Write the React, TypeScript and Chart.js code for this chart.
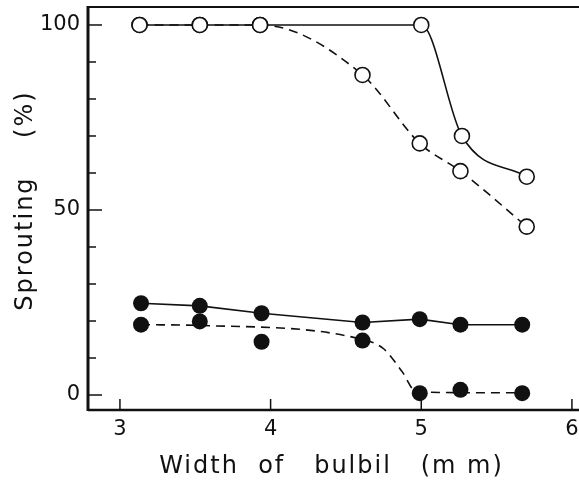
import React, { useEffect, useRef } from "react";
import { Chart, registerables } from "chart.js";

Chart.register(...registerables);

// ---- data ----
const openSolidX = [3.13, 3.53, 3.93, 5.0, 5.27, 5.7];
const openSolidY = [100, 100, 100, 100, 70, 59];

const openDashX = [3.13, 3.53, 3.93, 4.61, 4.99, 5.26, 5.7];
const openDashY = [100, 100, 100, 86.5, 68, 60.5, 45.5];

const filledX = [3.14, 3.53, 3.94, 4.61, 4.99, 5.26, 5.67];
const filledSolidY = [24.8, 24.1, 22.1, 19.6, 20.5, 19.0, 19.0];
const filledDashY = [19.0, 19.9, 14.4, 14.7, 0.5, 1.4, 0.5];

// fitted (hand-drawn) trend line for the dashed filled series
const filledDashTrendX = [3.14, 3.53, 4.61, 4.75, 4.87, 4.97, 5.67];
const filledDashTrendY = [19.0, 18.8, 15.0, 12.5, 6.5, 0.8, 0.6];

const xTickValues = [3, 4, 5, 6];
const yTickValues = [0, 50, 100];
const yMinorTickValues = [0, 10, 20, 30, 40, 50, 60, 70, 80, 90, 100];

const xTitle = "Width  of   bulbil   (m m)";
const yTitle = "Sprouting    (%)";

const toPts = (xs: number[], ys: number[]) => xs.map((x, i) => ({ x, y: ys[i] }));

const INK = "#111";
const FONT = '"DejaVu Sans", sans-serif';

const decor = {
  id: "decor",
  beforeDatasetsDraw(chart: any) {
    const { ctx, chartArea: a, scales } = chart;
    const x = scales.x;
    const y = scales.y;
    const seg = (x1: number, y1: number, x2: number, y2: number) => {
      ctx.beginPath();
      ctx.moveTo(x1, y1);
      ctx.lineTo(x2, y2);
      ctx.stroke();
    };
    ctx.save();
    ctx.strokeStyle = INK;
    ctx.lineCap = "butt";
    ctx.lineWidth = 3;
    seg(a.left, a.top - 1, a.left, a.bottom + 1);
    ctx.lineWidth = 2;
    seg(a.left, a.top, a.right, a.top);
    ctx.lineWidth = 2.5;
    seg(a.left, a.bottom, a.right, a.bottom);
    ctx.lineWidth = 1.5;
    for (const v of yMinorTickValues) {
      const p = y.getPixelForValue(v);
      const len = yTickValues.includes(v) ? 14 : 8;
      seg(a.left, p, a.left + len, p);
    }
    for (const v of xTickValues) {
      const p = x.getPixelForValue(v);
      seg(p, a.bottom, p, a.bottom - 11);
    }
    ctx.restore();
  },
  afterDraw(chart: any) {
    const { ctx, chartArea: a } = chart;
    ctx.save();
    ctx.fillStyle = INK;
    ctx.font = `24px ${FONT}`;
    (ctx as any).letterSpacing = "2px";
    ctx.textAlign = "center";
    ctx.textBaseline = "alphabetic";
    ctx.fillText(xTitle, (a.left + a.right) / 2 - 2, 473);
    ctx.translate(32, (a.top + a.bottom) / 2 - 8);
    ctx.rotate(-Math.PI / 2);
    ctx.fillText(yTitle, 0, 0);
    ctx.restore();
  },
};

export default function App() {
  const ref = useRef<HTMLCanvasElement | null>(null);

  useEffect(() => {
    if (!ref.current) return;
    const lineBase = {
      showLine: true,
      pointRadius: 0,
      pointHoverRadius: 0,
      borderColor: INK,
      borderWidth: 1.6,
      fill: false,
      cubicInterpolationMode: "monotone" as const,
      order: 2,
    };
    const openPts = {
      showLine: false,
      pointRadius: 7.5,
      pointHoverRadius: 7.5,
      pointBorderWidth: 1.6,
      pointBorderColor: INK,
      pointBackgroundColor: "#fff",
      order: 0,
    };
    const filledPts = {
      showLine: false,
      pointRadius: 8,
      pointHoverRadius: 8,
      pointBorderWidth: 0,
      pointBorderColor: INK,
      pointBackgroundColor: INK,
      order: 0,
    };

    const chart = new Chart(ref.current, {
      type: "scatter",
      data: {
        datasets: [
          { ...lineBase, label: "open solid line", data: toPts(openSolidX, openSolidY) },
          { ...lineBase, label: "open dashed line", data: toPts(openDashX, openDashY), borderDash: [9, 6] },
          { ...lineBase, label: "filled solid line", data: toPts(filledX, filledSolidY), cubicInterpolationMode: "default", tension: 0 },
          { ...lineBase, label: "filled dashed line", data: toPts(filledDashTrendX, filledDashTrendY), borderDash: [9, 6] },
          { ...openPts, label: "open solid", data: toPts(openSolidX, openSolidY) },
          { ...openPts, label: "open dashed", data: toPts(openDashX, openDashY) },
          { ...filledPts, label: "filled solid", data: toPts(filledX, filledSolidY) },
          { ...filledPts, label: "filled dashed", data: toPts(filledX, filledDashY) },
        ] as any,
      },
      options: {
        animation: false,
        responsive: false,
        maintainAspectRatio: false,
        layout: { autoPadding: false, padding: { top: 7, left: 0, right: 0, bottom: 0 } },
        plugins: { legend: { display: false }, tooltip: { enabled: false } },
        events: [],
        scales: {
          x: {
            type: "linear",
            min: 2.788,
            max: 6.047,
            grid: { display: false, drawTicks: false },
            border: { display: false },
            ticks: {
              padding: 7,
              color: INK,
              font: { family: FONT, size: 21 },
              autoSkip: false,
              maxRotation: 0,
            },
            afterBuildTicks: (s: any) => {
              s.ticks = xTickValues.map((v) => ({ value: v }));
            },
            afterFit: (s: any) => {
              s.height = 73;
              s.paddingLeft = 0;
              s.paddingRight = 0;
              s.paddingTop = 0;
              s.paddingBottom = 0;
            },
          },
          y: {
            type: "linear",
            min: -4.05,
            max: 104.86,
            grid: { display: false, drawTicks: false },
            border: { display: false },
            ticks: {
              padding: 8,
              color: INK,
              font: { family: FONT, size: 21 },
              autoSkip: false,
            },
            afterBuildTicks: (s: any) => {
              s.ticks = yTickValues.map((v) => ({ value: v }));
            },
            afterFit: (s: any) => {
              s.width = 88;
              s.paddingLeft = 0;
              s.paddingRight = 0;
              s.paddingTop = 0;
              s.paddingBottom = 0;
            },
          },
        },
      } as any,
      plugins: [decor],
    });
    return () => chart.destroy();
  }, []);

  return (
    <div style={{ position: "absolute", left: 0, top: 0, width: 579, height: 483, background: "#fff" }}>
      <canvas ref={ref} width={579} height={483} style={{ display: "block" }} />
    </div>
  );
}
